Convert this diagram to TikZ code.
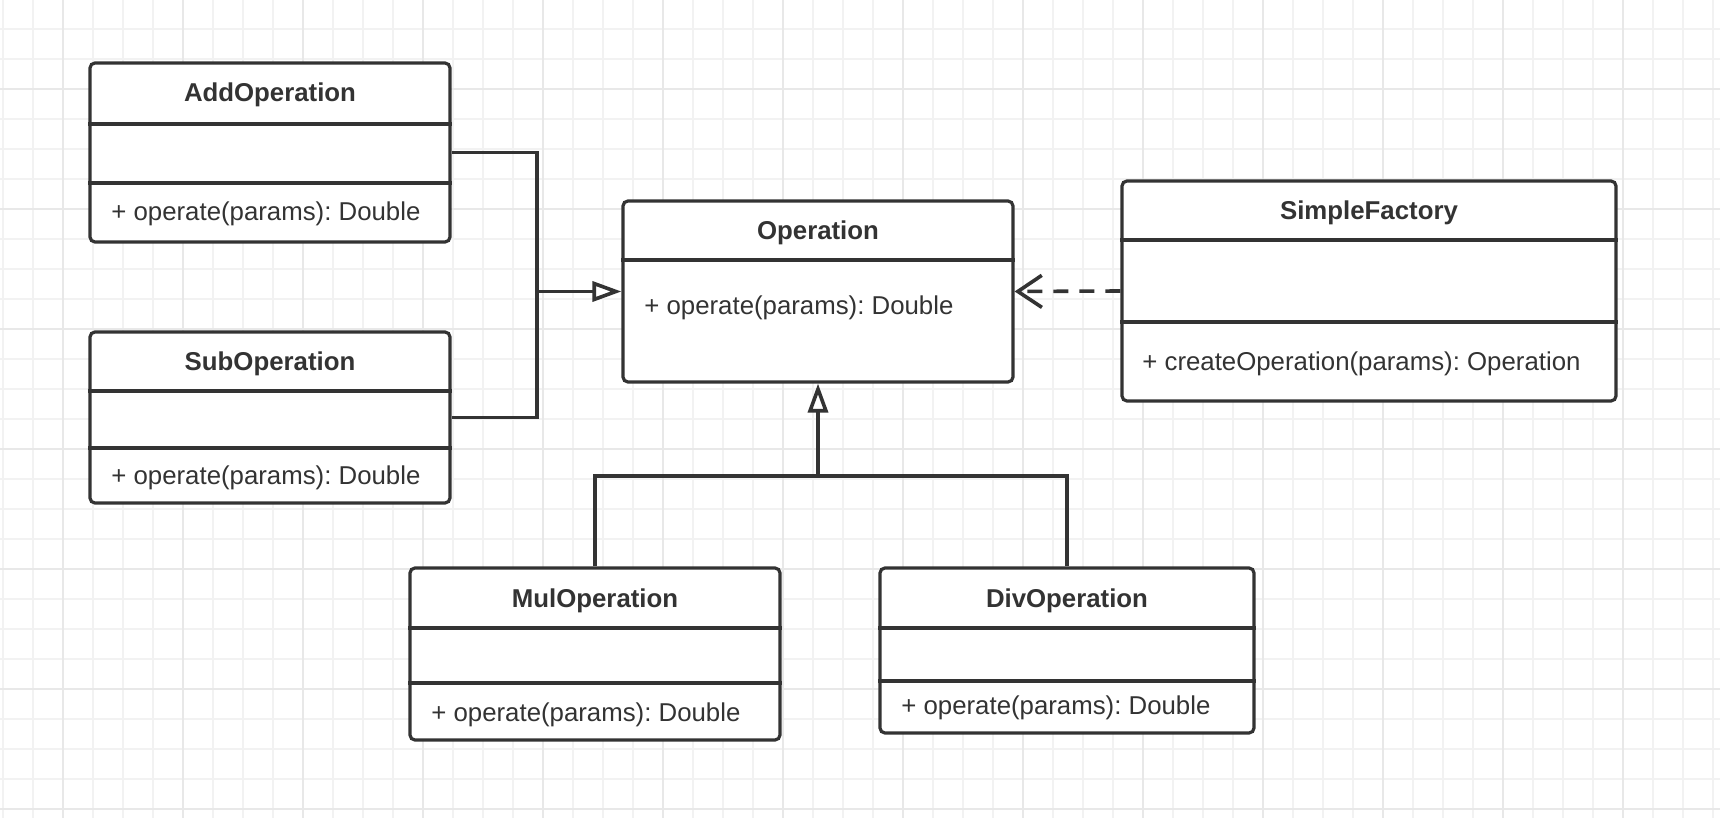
\documentclass[tikz,border=0pt]{standalone}
\usepackage{fontspec}
\setmainfont{Liberation Sans}
\usetikzlibrary{arrows.meta,fit}
\definecolor{ink}{HTML}{333333}
\definecolor{gridminor}{HTML}{F2F2F2}
\definecolor{gridmajor}{HTML}{E8E8E8}
\frenchspacing
\begin{document}
\begin{tikzpicture}[x=0.5pt,y=-0.5pt,
  classbox/.style={draw=ink, line width=1.6pt, rounded corners=2.5pt, fill=white, inner sep=0pt},
  divider/.style={draw=ink, line width=1.6pt},
  ctitle/.style={font=\fontsize{12.9}{15}\selectfont\bfseries, text=ink, inner sep=0pt, anchor=base},
  cmethod/.style={font=\fontsize{12.9}{15}\selectfont, text=ink, inner sep=0pt, anchor=base west},
  link/.style={draw=ink, line width=1.8pt},
  inherit/.style={link, -{Triangle[length=14.5pt, width=10pt, fill=white]}},
  depend/.style={link, dash pattern=on 7.5pt off 5.5pt, -{Straight Barb[length=12pt, width=16pt]}},
]
% canvas and grid paper
\useasboundingbox (0,0) rectangle (1720,818);
\fill[white] (0,0) rectangle (1720,818);
\foreach \x in {3,33,...,1713} \draw[gridminor, line width=0.8pt] (\x,0) -- (\x,818);
\foreach \y in {-1,29,...,809} \draw[gridminor, line width=0.8pt] (0,\y) -- (1720,\y);
\foreach \x in {63,183,...,1703} \draw[gridmajor, line width=0.8pt] (\x,0) -- (\x,818);
\foreach \y in {89,209,...,809} \draw[gridmajor, line width=0.8pt] (0,\y) -- (1720,\y);

% AddOperation
\node[classbox, fit={(90,63) (450,242)}] (add) {};
\draw[divider] (add.west |- 0,124) -- (add.east |- 0,124);
\draw[divider] (add.west |- 0,183) -- (add.east |- 0,183);
\node[ctitle] (addT) at (270,102) {AddOperation};
\node[cmethod] (addM) at (111,221) {+ operate(params): Double};

% SubOperation
\node[classbox, fit={(90,332) (450,503)}] (sub) {};
\draw[divider] (sub.west |- 0,391) -- (sub.east |- 0,391);
\draw[divider] (sub.west |- 0,448) -- (sub.east |- 0,448);
\node[ctitle] (subT) at (270,371) {SubOperation};
\node[cmethod] (subM) at (111,484) {+ operate(params): Double};

% Operation
\node[classbox, fit={(623,201) (1013,382)}] (op) {};
\draw[divider] (op.west |- 0,260) -- (op.east |- 0,260);
\node[ctitle] (opT) at (818,240) {Operation};
\node[cmethod] (opM) at (644,315) {+ operate(params): Double};

% SimpleFactory
\node[classbox, fit={(1122,181) (1616,401)}] (sf) {};
\draw[divider] (sf.west |- 0,240) -- (sf.east |- 0,240);
\draw[divider] (sf.west |- 0,322) -- (sf.east |- 0,322);
\node[ctitle] (sfT) at (1369,220) {SimpleFactory};
\node[cmethod] (sfM) at (1142,371) {+ createOperation(params): Operation};

% MulOperation
\node[classbox, fit={(410,568) (780,740)}] (mul) {};
\draw[divider] (mul.west |- 0,628) -- (mul.east |- 0,628);
\draw[divider] (mul.west |- 0,683) -- (mul.east |- 0,683);
\node[ctitle] (mulT) at (595,607) {MulOperation};
\node[cmethod] (mulM) at (431,721) {+ operate(params): Double};

% DivOperation
\node[classbox, fit={(880,568) (1254,733)}] (div) {};
\draw[divider] (div.west |- 0,628) -- (div.east |- 0,628);
\draw[divider] (div.west |- 0,681) -- (div.east |- 0,681);
\node[ctitle] (divT) at (1067,607) {DivOperation};
\node[cmethod] (divM) at (901,714) {+ operate(params): Double};

% generalization: Add and Sub
\coordinate (j1) at (op.west -| 537,0);
\draw[link] (add.east) -| (j1);
\draw[link] (sub.east) -| (j1);
\draw[inherit] (j1) -- (op.west);

% generalization: Mul and Div
\coordinate (j2) at (op.south |- 0,476);
\draw[link] (mul.north) |- (j2);
\draw[link] (div.north) |- (j2);
\draw[inherit] (j2) -- (op.south);

% dependency: SimpleFactory uses Operation
\draw[depend] (sf.west) -- (op.east);
\end{tikzpicture}
\end{document}
